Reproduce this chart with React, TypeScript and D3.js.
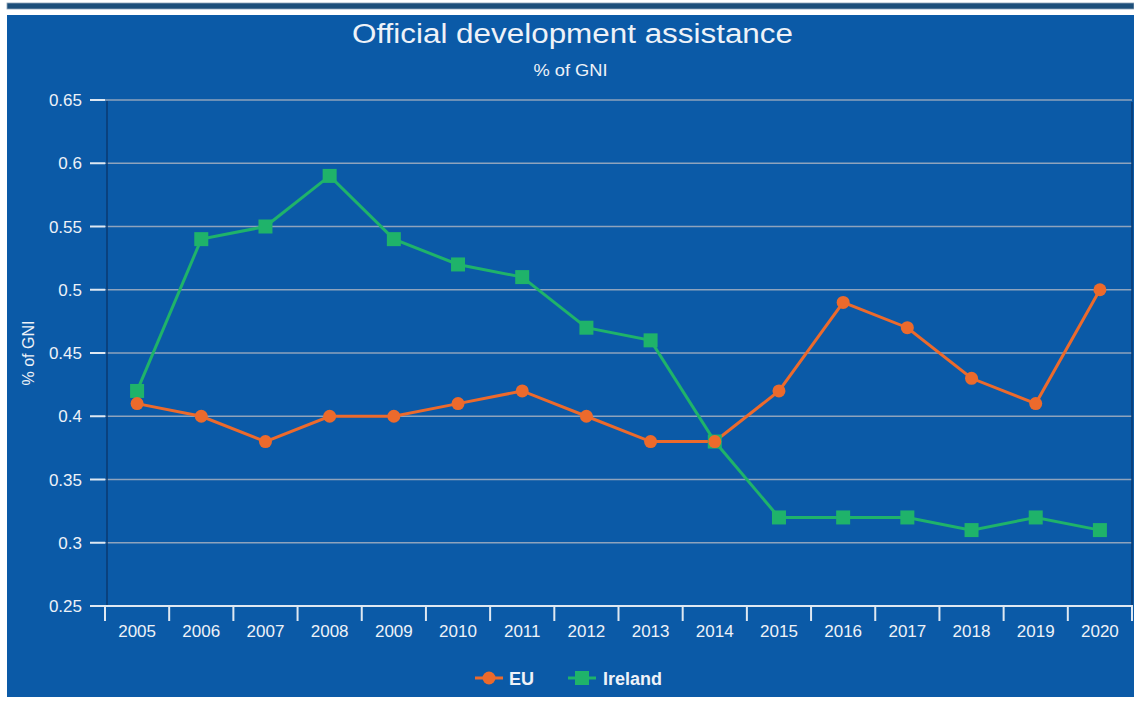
import React from "react";
import * as d3 from "d3";

const years = ["2005","2006","2007","2008","2009","2010","2011","2012","2013","2014","2015","2016","2017","2018","2019","2020"];
const euValues = [0.41,0.40,0.38,0.40,0.40,0.41,0.42,0.40,0.38,0.38,0.42,0.49,0.47,0.43,0.41,0.50];
const irelandValues = [0.42,0.54,0.55,0.59,0.54,0.52,0.51,0.47,0.46,0.38,0.32,0.32,0.32,0.31,0.32,0.31];
const yTicks = [0.25,0.3,0.35,0.4,0.45,0.5,0.55,0.6,0.65];

const W = 1134, H = 701;
const left = 105, right = 1132, top = 100, bottom = 606;
const BG = "#0b5aa7";
const EU_C = "#ec6a2c";
const IE_C = "#1fb36a";
const TXT = "#eef2f8";
const FONT = "Liberation Sans, Arial, sans-serif";

export default function App() {
  const x = d3.scaleBand<string>().domain(years).range([left, right]).padding(0);
  const y = d3.scaleLinear().domain([0.25, 0.65]).range([bottom, top]);
  const cx = (d: string) => (x(d) as number) + x.bandwidth() / 2;
  const line = d3.line<number>().x((_, i) => cx(years[i])).y((v) => y(v));
  const fmt = (v: number) => String(+v.toFixed(2));

  return (
    <svg width={W} height={H} style={{ position: "absolute", left: 0, top: 0, display: "block" }} fontFamily={FONT}>
      <rect x={0} y={0} width={W} height={H} fill="#ffffff" />
      <rect x={7} y={3} width={W - 7} height={6} fill="#1d4f7a" stroke="#8da3b8" strokeWidth={0.8} />
      <rect x={7} y={15} width={W - 7} height={682} fill={BG} />
      <text x={572.5} y={43} textAnchor="middle" fill={TXT} fontSize={27} textLength={441} lengthAdjust="spacingAndGlyphs">Official development assistance</text>
      <text x={570.5} y={76} textAnchor="middle" fill={TXT} fontSize={17} textLength={74} lengthAdjust="spacingAndGlyphs">% of GNI</text>
      <text transform={`translate(34,${(top + bottom) / 2}) rotate(-90)`} textAnchor="middle" fill={TXT} fontSize={16}>% of GNI</text>
      {yTicks.map((t) => (
        <g key={t}>
          {t > 0.25 && <line x1={left} x2={right} y1={y(t)} y2={y(t)} stroke="#8ea3bd" strokeWidth={1.5} />}
          <line x1={90} x2={left} y1={y(t)} y2={y(t)} stroke="#dfe8f2" strokeWidth={2} />
          <text x={82} y={y(t) + 6} textAnchor="end" fill={TXT} fontSize={17}>{fmt(t)}</text>
        </g>
      ))}
      <line x1={left + 2} x2={left + 2} y1={top + 1} y2={bottom} stroke="#0b3a70" strokeWidth={1.5} />
      <line x1={right} x2={right} y1={top + 2} y2={bottom} stroke="#0b3a70" strokeWidth={1.5} />
      <line x1={left} x2={right + 1} y1={bottom} y2={bottom} stroke="#dfe8f2" strokeWidth={2} />
      {years.map((yr) => (
        <line key={"t" + yr} x1={x(yr) as number} x2={x(yr) as number} y1={bottom} y2={bottom + 15} stroke="#dfe8f2" strokeWidth={2} />
      ))}
      <line x1={right} x2={right} y1={bottom} y2={bottom + 15} stroke="#dfe8f2" strokeWidth={2} />
      {years.map((yr) => (
        <text key={"l" + yr} x={cx(yr)} y={637} textAnchor="middle" fill={TXT} fontSize={17}>{yr}</text>
      ))}
      <path d={line(irelandValues) || ""} fill="none" stroke={IE_C} strokeWidth={3} />
      <path d={line(euValues) || ""} fill="none" stroke={EU_C} strokeWidth={3} />
      {irelandValues.map((v, i) => (
        <rect key={"ie" + i} x={cx(years[i]) - 7} y={y(v) - 7} width={14} height={14} fill={IE_C} />
      ))}
      {euValues.map((v, i) => (
        <circle key={"eu" + i} cx={cx(years[i])} cy={y(v)} r={6.5} fill={EU_C} />
      ))}
      <g>
        <line x1={475} x2={503} y1={678} y2={678} stroke={EU_C} strokeWidth={3} />
        <circle cx={489} cy={678} r={6.5} fill={EU_C} />
        <text x={509} y={684.5} fill={TXT} fontSize={18} fontWeight="bold">EU</text>
        <line x1={568} x2={596} y1={678} y2={678} stroke={IE_C} strokeWidth={3} />
        <rect x={575} y={671} width={14} height={14} fill={IE_C} />
        <text x={603} y={684.5} fill={TXT} fontSize={18} fontWeight="bold">Ireland</text>
      </g>
    </svg>
  );
}
